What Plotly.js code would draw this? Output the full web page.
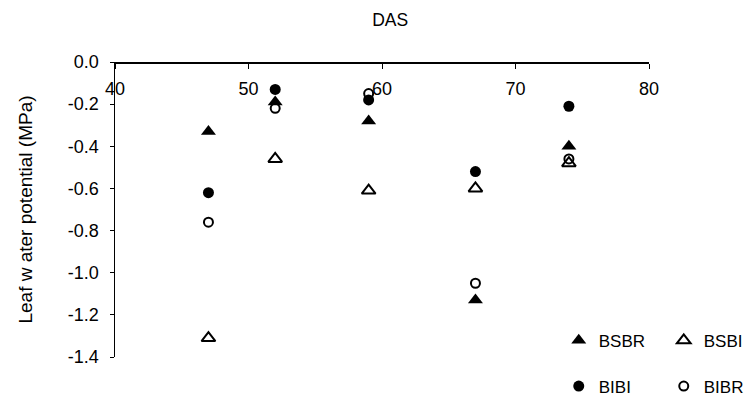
<!DOCTYPE html>
<html>
<head>
<meta charset="utf-8">
<script src="https://cdn.plot.ly/plotly-3.0.1.min.js"></script>
<style>html,body{margin:0;padding:0;background:#fff;}#chart{width:746px;height:400px;}</style>
</head>
<body>
<div id="chart"></div>
<script>
const das = [47, 52, 59, 67, 74];
const bsbr = [-0.33, -0.19, -0.28, -1.13, -0.40];
const bsbi = [-1.31, -0.46, -0.61, -0.60, -0.48];
const bibi = [-0.62, -0.13, -0.18, -0.52, -0.21];
const bibr = [-0.76, -0.22, -0.15, -1.05, -0.46];
const xTicks = [40, 50, 60, 70, 80];
const yTicks = [0, -0.2, -0.4, -0.6, -0.8, -1.0, -1.2, -1.4];

const fam = 'Liberation Sans, Arial, sans-serif';

const traces = [
  {x: das, y: bsbr, name: 'BSBR', mode: 'markers', type: 'scatter', legend: 'legend',
   marker: {symbol: 'triangle-up', size: 13, color: '#000'}},
  {x: das, y: bsbi, name: 'BSBI', mode: 'markers', type: 'scatter', legend: 'legend',
   marker: {symbol: 'triangle-up-open', size: 12, color: '#000', line: {width: 2, color: '#000'}}},
  {x: das, y: bibi, name: 'BIBI', mode: 'markers', type: 'scatter', legend: 'legend2',
   marker: {symbol: 'circle', size: 11, color: '#000'}},
  {x: das, y: bibr, name: 'BIBR', mode: 'markers', type: 'scatter', legend: 'legend2',
   marker: {symbol: 'circle-open', size: 9, color: '#000', line: {width: 2, color: '#000'}}}
];

const layout = {
  width: 746, height: 400,
  margin: {l: 115, r: 97, t: 62, b: 43, autoexpand: false},
  paper_bgcolor: '#fff', plot_bgcolor: '#fff',
  font: {family: fam, size: 17, color: '#000'},
  showlegend: true,
  title: {text: 'DAS', x: 0.523, xanchor: 'center', y: 0.95, yanchor: 'middle', font: {family: fam, size: 17.5, color: '#000'}},
  xaxis: {
    range: [40, 80], side: 'bottom', anchor: 'free', position: 1,
    tickvals: xTicks, ticktext: xTicks.map(String),
    showline: true, linecolor: '#000', linewidth: 1.5, ticks: 'outside', ticklen: 5, tickcolor: '#000',
    ticklabelstandoff: 5, showgrid: false, zeroline: false,
    tickfont: {family: fam, size: 18, color: '#000'}
  },
  yaxis: {
    range: [-1.4, 0], tickvals: yTicks, ticktext: yTicks.map(v => v.toFixed(1)),
    showline: true, linecolor: '#000', linewidth: 1.5, ticks: 'outside', ticklen: 4, tickcolor: '#000',
    ticklabelstandoff: 7, showgrid: false, zeroline: false,
    tickfont: {family: fam, size: 18, color: '#000'},
    title: {text: 'Leaf w ater potential (MPa)', standoff: 30, font: {family: fam, size: 19, color: '#000'}}
  },
  legend: {orientation: 'h', x: 0.831, y: 0.055, xanchor: 'left', yanchor: 'middle',
    entrywidth: 60, entrywidthmode: 'pixels', bgcolor: 'rgba(0,0,0,0)',
    font: {family: fam, size: 17, color: '#000'}},
  legend2: {orientation: 'h', x: 0.831, y: -0.10, xanchor: 'left', yanchor: 'middle',
    entrywidth: 60, entrywidthmode: 'pixels', bgcolor: 'rgba(0,0,0,0)',
    font: {family: fam, size: 17, color: '#000'}}
};

Plotly.newPlot('chart', traces, layout, {displayModeBar: false, staticPlot: true});
</script>
</body>
</html>
